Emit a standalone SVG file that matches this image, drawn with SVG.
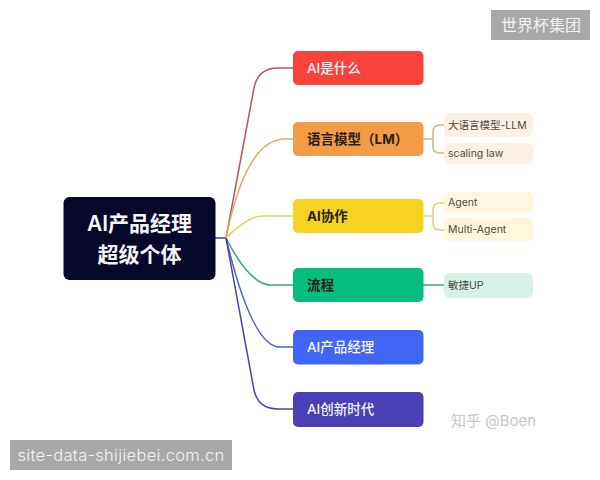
<svg xmlns="http://www.w3.org/2000/svg" width="600" height="480" viewBox="0 0 600 480">
<style>
text{font-family:"Inter","Noto Sans CJK SC",sans-serif}
.n{font-size:13.5px;font-weight:500;fill:#f4f4fa}
.d{font-size:13.5px;font-weight:700;fill:#2a2018}
.l{font-size:10.5px;fill:#4a4a42}
.c{fill:none;stroke-width:1.5}
.wm{fill:#a8a8a8}
.wt{fill:#f2f2f2;font-family:"Noto Sans CJK SC",sans-serif}
</style>
<rect width="600" height="480" fill="#fff"/>
<g id="connectors">
<path class="c" stroke="#3f3f8f" d="M215 238H226"/>
<path class="c" stroke="#b8565a" d="M226 238L254 88Q258 68 278 68H293"/>
<path class="c" stroke="#d6ad6a" d="M226 238Q246 139 285 139H293"/>
<path class="c" stroke="#e3d35a" d="M226 238Q248 216 263 216H293"/>
<path class="c" stroke="#2fa878" d="M226 238Q250 285 271 285H293"/>
<path class="c" stroke="#4a64c8" d="M226 238Q252 347 280 347H293"/>
<path class="c" stroke="#4a45a8" d="M226 238L254 390Q258 409 278 409H293"/>
<path class="c" stroke="#c4b98c" d="M423 139H433M444 125H440Q433 125 433 132V146Q433 153 440 153H444"/>
<path class="c" stroke="#dccf78" d="M423 216H433M444 203H440Q433 203 433 210V223Q433 230 440 230H444"/>
<path class="c" stroke="#2fa878" d="M423 285H444"/>
</g>
<g id="root"><rect x="63.500" y="197" width="152" height="83" rx="6" fill="#07072a"/>
<text x="139.500" y="231" text-anchor="middle" font-size="21" font-weight="600" fill="#f5f5f5">AI产品经理</text>
<text x="139.500" y="262" text-anchor="middle" font-size="21" font-weight="600" fill="#f5f5f5">超级个体</text></g>
<g id="n1"><rect x="293" y="51" width="130.500" height="34" rx="5" fill="#fa423c"/><text class="n" x="307" y="73">AI是什么</text></g>
<g id="n2"><rect x="293" y="122" width="130.500" height="34" rx="5" fill="#f49c45"/><text class="d" x="307" y="144">语言模型（LM）</text></g>
<g id="n3"><rect x="293" y="199" width="130.500" height="34" rx="5" fill="#f6d322"/><text class="d" x="307" y="221">AI协作</text></g>
<g id="n4"><rect x="293" y="268" width="130.500" height="34" rx="5" fill="#05bd7c"/><text class="d" x="307" y="290">流程</text></g>
<g id="n5"><rect x="293" y="330" width="130.500" height="34.500" rx="5" fill="#4166f5"/><text class="n" x="307" y="352">AI产品经理</text></g>
<g id="n6"><rect x="293" y="392" width="130.500" height="35" rx="5" fill="#4b3fb5"/><text class="n" x="307" y="414">AI创新时代</text></g>
<g id="l1"><rect x="444" y="113" width="89" height="24" rx="6" fill="#fdf0e4"/><text class="l" x="448" y="129">大语言模型-LLM</text></g>
<g id="l2"><rect x="444" y="143" width="89" height="21" rx="6" fill="#fdf0e4"/><text class="l" x="448" y="157">scaling law</text></g>
<g id="l3"><rect x="444" y="192" width="89" height="21" rx="5" fill="#fef7de"/><text class="l" x="448" y="206">Agent</text></g>
<g id="l4"><rect x="444" y="218" width="89" height="23" rx="5" fill="#fef7de"/><text class="l" x="448" y="233">Multi-Agent</text></g>
<g id="l5"><rect x="444" y="273" width="89" height="25" rx="6" fill="#d8f2e8"/><text class="l" x="448" y="289">敏捷UP</text></g>
<text x="451" y="426" font-size="15" fill="#c8c8c8">知乎 @Boen</text>
<rect class="wm" x="491" y="10" width="99" height="30"/>
<text class="wt" x="541" y="31" text-anchor="middle" font-size="16">世界杯集团</text>
<rect class="wm" x="10" y="440" width="222" height="30"/>
<text x="121" y="461" text-anchor="middle" font-size="16.500" font-weight="300" fill="#f2f2f2" letter-spacing=".3" style="font-family:'Inter',sans-serif">site-data-shijiebei.com.cn</text>
</svg>
